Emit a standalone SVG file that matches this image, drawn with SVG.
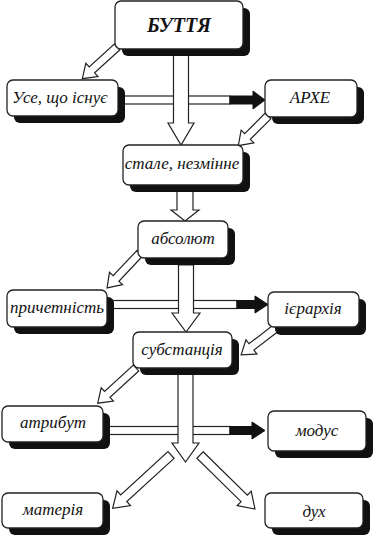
<svg xmlns="http://www.w3.org/2000/svg" width="375" height="536" viewBox="0 0 375 536">
<style>
.bg{fill:#fff}
.sh{fill:#111}
.bx{fill:#fff;stroke:#222;stroke-width:1.3}
.t{font-family:'Liberation Serif',serif;font-style:italic;font-size:17px;text-anchor:middle;fill:#111}
.tb{font-family:'Liberation Serif',serif;font-style:italic;font-weight:bold;font-size:20px;text-anchor:middle;fill:#111}
.ha{fill:#fff;stroke:#222;stroke-width:1.2;stroke-linejoin:miter}
.hb{fill:#111;stroke:#111;stroke-width:1}
</style>
<rect class="bg" x="0" y="0" width="375" height="536"/>
<g id="connectors">
  <rect class="ha" x="118" y="96" width="112" height="8"/>
  <rect class="hb" x="230" y="96" width="25" height="8"/>
  <polygon class="hb" points="253,91 265,100 253,109"/>
  <rect class="ha" x="107" y="300.5" width="130" height="8"/>
  <rect class="hb" x="237" y="300.5" width="20" height="8"/>
  <polygon class="hb" points="255,296 268,304.5 255,313"/>
  <rect class="ha" x="103" y="426.5" width="127" height="8"/>
  <rect class="hb" x="230" y="426.5" width="23" height="8"/>
  <polygon class="hb" points="252,422 265,430.5 252,439"/>
  <polygon class="ha" points="173.5,55 188.5,55 188.5,123 194,123 181,145 168,123 173.5,123"/>
  <polygon class="ha" points="177,190 193,190 193,210 199,210 185,221 171,210 177,210"/>
  <polygon class="ha" points="178.5,265 193.5,265 193.5,313 200,313 186,332 172,313 178.5,313"/>
  <polygon class="ha" points="178,374 193,374 193,443 199,443 185.5,462 172,443 178,443"/>
  <polygon class="ha" transform="translate(117,47) rotate(137.6)" points="0,-4 34,-4 34,-9 47,0 34,9 34,4 0,4"/>
  <polygon class="ha" transform="translate(268,116) rotate(135)" points="0,-4 29,-4 29,-9 42,0 29,9 29,4 0,4"/>
  <polygon class="ha" transform="translate(140,253) rotate(133.3)" points="0,-4 35,-4 35,-9 48,0 35,9 35,4 0,4"/>
  <polygon class="ha" transform="translate(276,328) rotate(142.4)" points="0,-4 31,-4 31,-9 44,0 31,9 31,4 0,4"/>
  <polygon class="ha" transform="translate(136,368) rotate(137.4)" points="0,-4 39,-4 39,-9 52,0 39,9 39,4 0,4"/>
  <polygon class="ha" transform="translate(171,455) rotate(137.6)" points="0,-4.5 64,-4.5 64,-10 79,0 64,10 64,4.5 0,4.5"/>
  <polygon class="ha" transform="translate(200,455) rotate(44.5)" points="0,-4.5 62,-4.5 62,-10 77,0 62,10 62,4.5 0,4.5"/>
</g>
<g id="buttia">
  <rect class="sh" x="122" y="8" width="128" height="48" rx="6"/>
  <rect class="bx" x="115" y="1" width="128" height="48" rx="6"/>
  <text class="tb" x="179" y="32">БУТТЯ</text>
</g>
<g id="use">
  <rect class="sh" x="14" y="87" width="111" height="36" rx="6"/>
  <rect class="bx" x="7" y="80" width="111" height="36" rx="6"/>
  <text class="t" x="60" y="103">Усе, що існує</text>
</g>
<g id="arkhe">
  <rect class="sh" x="272" y="87" width="92" height="37" rx="6"/>
  <rect class="bx" x="265" y="80" width="92" height="37" rx="6"/>
  <text class="t" x="310" y="103">АРХЕ</text>
</g>
<g id="stale">
  <rect class="sh" x="130" y="152" width="120" height="40" rx="6"/>
  <rect class="bx" x="123" y="145" width="120" height="40" rx="6"/>
  <text class="t" x="182" y="169">стале, незмінне</text>
</g>
<g id="absolut">
  <rect class="sh" x="145" y="228" width="90" height="37" rx="6"/>
  <rect class="bx" x="138" y="221" width="90" height="37" rx="6"/>
  <text class="t" x="183" y="244">абсолют</text>
</g>
<g id="prychetnist">
  <rect class="sh" x="14" y="297" width="100" height="37" rx="6"/>
  <rect class="bx" x="7" y="290" width="100" height="37" rx="6"/>
  <text class="t" x="57" y="313">причетність</text>
</g>
<g id="iierarkhiia">
  <rect class="sh" x="275" y="299" width="91" height="36" rx="6"/>
  <rect class="bx" x="268" y="292" width="91" height="35" rx="6"/>
  <text class="t" x="313" y="314">ієрархія</text>
</g>
<g id="substantsiia">
  <rect class="sh" x="140" y="339" width="99" height="36" rx="6"/>
  <rect class="bx" x="133" y="332" width="99" height="36" rx="6"/>
  <text class="t" x="182" y="355">субстанція</text>
</g>
<g id="atrybut">
  <rect class="sh" x="9" y="413" width="101" height="36" rx="6"/>
  <rect class="bx" x="2" y="406" width="101" height="36" rx="6"/>
  <text class="t" x="53" y="428">атрибут</text>
</g>
<g id="modus">
  <rect class="sh" x="275" y="418" width="98" height="40" rx="6"/>
  <rect class="bx" x="268" y="411" width="98" height="40" rx="6"/>
  <text class="t" x="317" y="436">модус</text>
</g>
<g id="materiia">
  <rect class="sh" x="9" y="500" width="101" height="35" rx="6"/>
  <rect class="bx" x="2" y="493" width="101" height="35" rx="6"/>
  <text class="t" x="53" y="515">матерія</text>
</g>
<g id="dukh">
  <rect class="sh" x="272" y="500" width="98" height="35" rx="6"/>
  <rect class="bx" x="265" y="493" width="98" height="35" rx="6"/>
  <text class="t" x="314" y="517">дух</text>
</g>
</svg>
